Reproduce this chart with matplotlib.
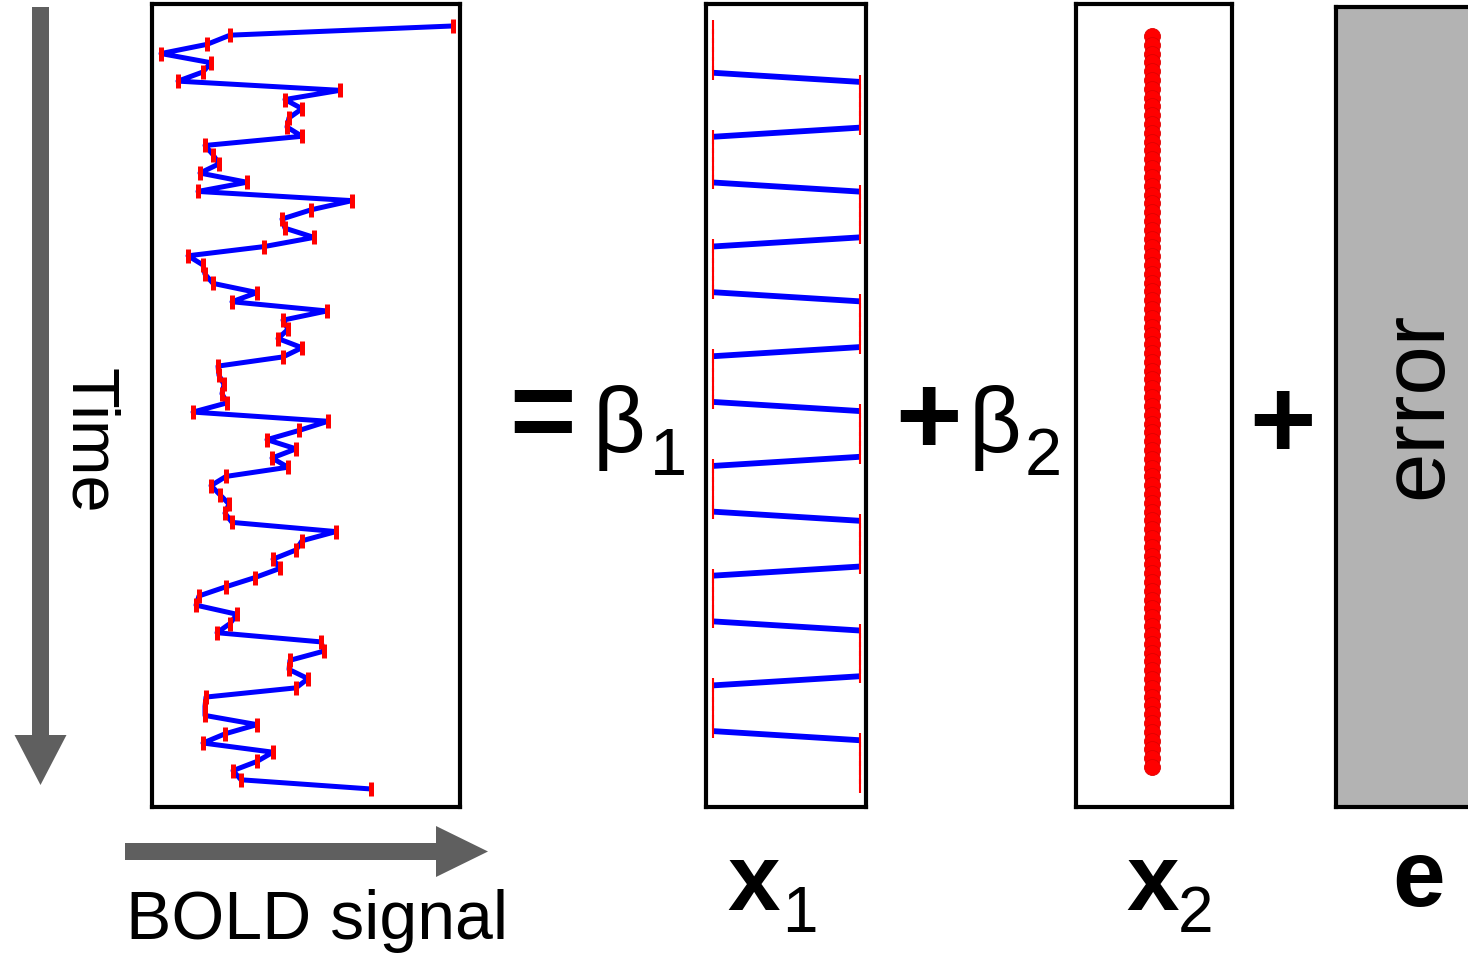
import matplotlib
matplotlib.use("Agg")
import matplotlib.pyplot as plt
from matplotlib.patches import FancyArrow

plt.rcParams['font.family'] = ['Liberation Sans', 'DejaVu Sans']

# BOLD time series (arbitrary units), one value per volume, read top to bottom
bold = [301, 78, 55, 9, 59, 51, 26, 188, 133, 150, 137, 135, 150, 53, 61, 67,
        48, 95, 46, 200, 159, 130, 133, 162, 112, 36, 51,
        53, 61, 105, 80, 175, 131, 136, 126, 150, 131, 66, 67, 72, 70, 75,
        41, 176, 147, 115, 144, 120, 136, 74, 59, 68, 77, 73, 80, 184, 150,
        144, 121, 128, 103, 74, 47, 44, 85, 78, 65, 169, 172, 138, 137, 156,
        144, 54, 53, 53, 105, 73, 51, 121, 105, 81, 89, 219]

# task regressor (block design, off/on)
x1 = [0, 0, 0, 0, 0, 0,
      1, 1, 1, 1, 1, 1,
      0, 0, 0, 0, 0, 0,
      1, 1, 1, 1, 1, 1,
      0, 0, 0, 0, 0, 0,
      1, 1, 1, 1, 1, 1,
      0, 0, 0, 0, 0, 0,
      1, 1, 1, 1, 1, 1,
      0, 0, 0, 0, 0, 0,
      1, 1, 1, 1, 1, 1,
      0, 0, 0, 0, 0, 0,
      1, 1, 1, 1, 1, 1,
      0, 0, 0, 0, 0, 0,
      1, 1, 1, 1, 1, 1]

# constant regressor
x2 = [1, 1, 1, 1, 1, 1, 1, 1, 1, 1, 1, 1, 1, 1, 1, 1, 1, 1, 1, 1, 1,
      1, 1, 1, 1, 1, 1, 1, 1, 1, 1, 1, 1, 1, 1, 1, 1, 1, 1, 1, 1, 1,
      1, 1, 1, 1, 1, 1, 1, 1, 1, 1, 1, 1, 1, 1, 1, 1, 1, 1, 1, 1, 1,
      1, 1, 1, 1, 1, 1, 1, 1, 1, 1, 1, 1, 1, 1, 1, 1, 1, 1, 1, 1, 1]

t = list(range(1, len(bold) + 1))

W, H = 1468, 954
fig = plt.figure(figsize=(W / 100, H / 100), dpi=100)


def panel(left, top, right, bottom):
    ax = fig.add_axes([left / W, 1 - bottom / H, (right - left) / W, (bottom - top) / H])
    ax.set_xticks([])
    ax.set_yticks([])
    for s in ax.spines.values():
        s.set_linewidth(3.0)
        s.set_color('black')
    return ax


# BOLD panel
ax = panel(152, 5, 460, 808)
ax.plot(bold, t, color='#0000ff', lw=3.6, zorder=2)
ax.plot(bold, t, ls='none', marker='|', ms=10, mew=3.6, color='#ff0000', zorder=3)
ax.set_xlim(0, 308)
ax.set_ylim(85.96, -1.39)

# x1 panel: blue only where the regressor switches, red ticks on every volume
ax = panel(706, 5, 866, 808)
for i in range(len(x1) - 1):
    if x1[i] != x1[i + 1]:
        ax.plot(x1[i:i + 2], t[i:i + 2], color='#0000ff', lw=4.2, zorder=2,
                solid_capstyle='butt')
ax.plot(x1, t, ls='none', marker='|', ms=9.5, mew=1.5, color='#ff0000', zorder=3)
ax.set_xlim(-0.048, 1.041)
ax.set_ylim(86.3, -1.52)

# x2 panel
ax = panel(1076, 5, 1232, 808)
ax.plot(x2, t, ls='none', marker='o', ms=11.5, color='#ff0000', mec='#e00000', mew=0.6)
ax.set_xlim(0.513, 1.513)
ax.set_ylim(88.54, -2.63)

# error panel (runs off the right edge)
ax = panel(1336, 8, 1560, 808)
ax.set_facecolor('#b3b3b3')

# overlay for arrows and text, in pixel units
ov = fig.add_axes([0, 0, 1, 1], zorder=5)
ov.set_xlim(0, W)
ov.set_ylim(H, 0)
ov.axis('off')
ov.patch.set_alpha(0)

grey = '#5f5f5f'
ov.add_patch(FancyArrow(40.5, 8, 0, 778, width=17, head_width=52, head_length=50,
                        length_includes_head=True, color=grey, lw=0))
ov.add_patch(FancyArrow(125, 852.5, 363, 0, width=17, head_width=51, head_length=52,
                        length_includes_head=True, color=grey, lw=0))

ov.text(88, 441, 'Time', rotation=270, fontsize=48, ha='center', va='center')
ov.text(126, 921, 'BOLD signal', fontsize=49, ha='left', va='center')
ov.text(1418, 405, 'error', rotation=90, fontsize=64, ha='center', va='center')

ov.text(542, 420, '=', fontsize=82, fontweight='bold', ha='center', va='center')
ov.text(593, 452, '\u03b2', fontsize=66, ha='left', va='baseline')
ov.text(650, 475, '1', fontsize=48, ha='left', va='baseline')

ov.text(928, 425, '+', fontsize=82, fontweight='bold', ha='center', va='center')
ov.text(969, 452, '\u03b2', fontsize=66, ha='left', va='baseline')
ov.text(1025, 475, '2', fontsize=48, ha='left', va='baseline')

ov.text(1283, 429, '+', fontsize=82, fontweight='bold', ha='center', va='center')

ov.text(727, 910, 'x', fontsize=68, fontweight='bold', ha='left', va='baseline')
ov.text(782, 932, '1', fontsize=46, ha='left', va='baseline')
ov.text(1126, 910, 'x', fontsize=68, fontweight='bold', ha='left', va='baseline')
ov.text(1178, 932, '2', fontsize=46, ha='left', va='baseline')
ov.text(1419, 906, 'e', fontsize=68, fontweight='bold', ha='center', va='baseline')

fig.savefig('out.png', dpi=100)
